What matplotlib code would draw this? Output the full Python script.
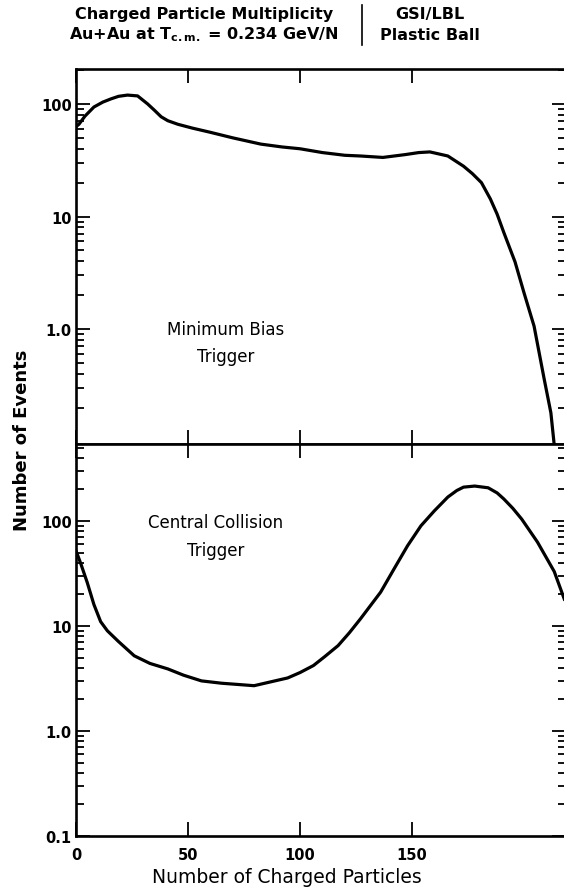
import numpy as np
import matplotlib
matplotlib.use('Agg')
import matplotlib.pyplot as plt
from matplotlib.lines import Line2D
from matplotlib.ticker import LogLocator, FixedLocator, NullFormatter, FixedFormatter

# minimum bias trigger (top panel)
mb_x = [0, 1.3, 4, 8, 12, 15.6, 19, 23, 27.5, 32, 35, 38, 41, 45.5, 52, 60, 70, 82.5, 92,
        100, 110, 120, 127, 137, 147, 153, 158, 166, 173, 177, 181, 185, 188, 191, 196,
        200, 204.5, 209, 212, 213.5]
mb_y = [63, 66, 78, 94, 104, 111, 117, 120, 118, 100, 88, 77, 71, 66, 61, 56, 50, 44, 41.5,
        40, 37, 35, 34.5, 33.5, 35.5, 37, 37.5, 34.5, 28, 24, 20, 14.3, 10.5, 7.2, 3.95,
        2.1, 1.06, 0.36, 0.18, 0.093]

# central collision trigger (bottom panel)
cc_x = [0, 2, 5, 8, 11, 14, 19, 26, 33, 41, 48, 56, 65, 79.5, 94.5, 100, 106, 111, 117,
        122, 127, 136, 142, 148, 154, 160, 166, 170, 173, 178, 184, 188, 191, 195, 199,
        206, 213.5, 218]
cc_y = [52, 40, 26, 16, 11, 9, 7.1, 5.2, 4.4, 3.9, 3.4, 3.0, 2.85, 2.7, 3.2, 3.6, 4.2, 5.1,
        6.5, 8.6, 11.7, 21, 35, 58, 90, 125, 169, 195, 210, 215, 207, 185, 162, 132, 104,
        63, 33, 18]

xticks = [0, 50, 100, 150]
xticklabels = ['0', '50', '100', '150']
top_yticks = [1, 10, 100]
top_yticklabels = ['1.0', '10', '100']
bot_yticks = [0.1, 1, 10, 100]
bot_yticklabels = ['0.1', '1.0', '10', '100']

W, H = 564, 895
fig = plt.figure(figsize=(W / 100, H / 100), dpi=100)

left = 76 / W
width = 490 / W
xmax = 490 / 2.24
ax1 = fig.add_axes([left, 1 - 445 / H, width, 375 / H])
ax2 = fig.add_axes([left, 1 - 837 / H, width, 392 / H])

for ax in (ax1, ax2):
    ax.set_yscale('log')
    ax.set_xlim(0, xmax)
    for s in ax.spines.values():
        s.set_linewidth(1.9)
    ax.xaxis.set_major_locator(FixedLocator(xticks))
    ax.yaxis.set_minor_locator(LogLocator(base=10, subs=np.arange(2, 10)))
    ax.yaxis.set_minor_formatter(NullFormatter())
    ax.tick_params(which='both', direction='in', top=True, right=True, width=1.3)
    ax.tick_params(which='major', length=10)
    ax.tick_params(which='minor', length=6)
    ax.tick_params(axis='y', pad=3, labelsize=10.5)
    ax.tick_params(axis='x', pad=8, labelsize=10.5)

ax1.set_ylim(10 ** -1.022, 10 ** 2.311)
ax2.set_ylim(0.1, 10 ** 2.733)

ax1.yaxis.set_major_locator(FixedLocator(top_yticks))
ax1.yaxis.set_major_formatter(FixedFormatter(top_yticklabels))
ax1.xaxis.set_major_formatter(NullFormatter())
ax2.yaxis.set_major_locator(FixedLocator(bot_yticks))
ax2.yaxis.set_major_formatter(FixedFormatter(bot_yticklabels))
ax2.xaxis.set_major_formatter(FixedFormatter(xticklabels))
for ax in (ax1, ax2):
    for lab in ax.get_xticklabels() + ax.get_yticklabels():
        lab.set_fontweight('bold')

ax1.plot(mb_x, mb_y, color='black', lw=2.3, solid_joinstyle='round')
ax2.plot(cc_x, cc_y, color='black', lw=2.3, solid_joinstyle='round')

ax1.text(67, 0.76, 'Minimum Bias\nTrigger', ha='center', va='center',
         fontsize=12, linespacing=1.6)
ax2.text(62.5, 72, 'Central Collision\nTrigger', ha='center', va='center',
         fontsize=12, linespacing=1.75)

fig.text(22 / W, 1 - 440 / H, 'Number of Events', rotation=90, ha='center',
         va='center', fontsize=13, fontweight='bold')
fig.text(287 / W, 1 - 878 / H, 'Number of Charged Particles', ha='center',
         va='center', fontsize=13.5)

# header
fig.text(204 / W, 1 - 14 / H, 'Charged Particle Multiplicity', ha='center',
         va='center', fontsize=11.5, fontweight='bold')
fig.text(204 / W, 1 - 35 / H, r'Au+Au at T$_{\mathbf{c.m.}}$ = 0.234 GeV/N', ha='center',
         va='center', fontsize=11.5, fontweight='bold')
fig.text(430 / W, 1 - 14 / H, 'GSI/LBL', ha='center', va='center',
         fontsize=11.5, fontweight='bold')
fig.text(430 / W, 1 - 35 / H, 'Plastic Ball', ha='center', va='center',
         fontsize=11.5, fontweight='bold')
fig.add_artist(Line2D([362 / W, 362 / W], [1 - 6 / H, 1 - 46 / H],
                      transform=fig.transFigure, color='black', lw=1.2))

fig.savefig('out.png', dpi=100)
